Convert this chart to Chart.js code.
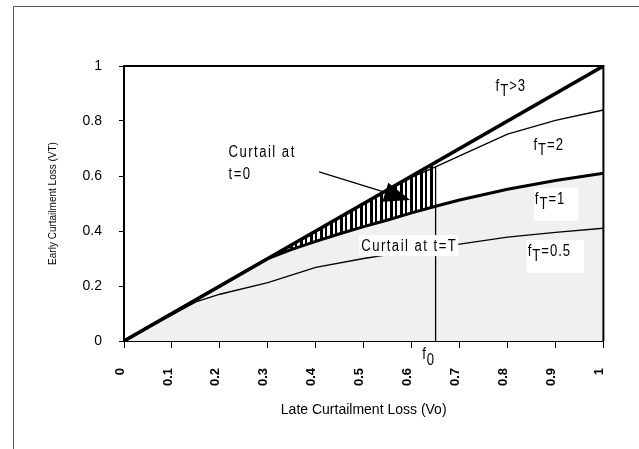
<!DOCTYPE html>
<html><head><meta charset="utf-8">
<script src="https://cdn.jsdelivr.net/npm/chart.js@4"></script>
<style>html,body{margin:0;padding:0;background:#fff;overflow:hidden}canvas{display:block}</style>
</head><body>
<canvas id="c" width="639" height="449"></canvas>
<script>
// ---- data ----
const xTickLabels = ['0','0.1','0.2','0.3','0.4','0.5','0.6','0.7','0.8','0.9','1'];
const yTickLabels = ['0','0.2','0.4','0.6','0.8','1'];
const xTitle = 'Late Curtailment Loss (Vo)';
const yTitle = 'Early Curtailment Loss (VT)';

const fT3X = [0, 1];
const fT3Y = [0, 1];
const fT2X = [0, 0.4, 0.5, 0.6, 0.65, 0.7, 0.8, 0.9, 1];
const fT2Y = [0, 0.4, 0.5, 0.595, 0.633, 0.673, 0.752, 0.802, 0.84];
const fT1X = [0, 0.3, 0.35, 0.4, 0.45, 0.5, 0.55, 0.6, 0.65, 0.7, 0.8, 0.9, 1];
const fT1Y = [0, 0.3, 0.333, 0.362, 0.39, 0.416, 0.44, 0.466, 0.49, 0.513, 0.552, 0.584, 0.61];
const fT05X = [0, 0.15, 0.2, 0.3, 0.4, 0.5, 0.6, 0.7, 0.8, 0.9, 1];
const fT05Y = [0, 0.142, 0.17, 0.212, 0.268, 0.3, 0.328, 0.352, 0.378, 0.395, 0.41];
const hatchX = [0.3, 0.35, 0.4, 0.45, 0.5, 0.55, 0.6, 0.645];
const hatchTopY = [0.3, 0.35, 0.4, 0.45, 0.5, 0.55, 0.6, 0.645];
const hatchBottomY = [0.3, 0.333, 0.362, 0.39, 0.416, 0.44, 0.466, 0.488];
const f0X = [0.65, 0.65];
const f0Y = [0, 0.633];

const pts = (xs, ys) => xs.map((x, i) => ({x, y: ys[i]}));

const SANS = '"Liberation Sans", Arial, sans-serif';
const SQ = 0.82; // horizontal squeeze for annotation text (narrow face look)

// hatch pattern (vertical black stripes)
const pc = document.createElement('canvas');
pc.width = 10; pc.height = 4;
const pctx = pc.getContext('2d');
pctx.fillStyle = '#000';
pctx.fillRect(0, 0, 3, 4);
pctx.fillRect(5, 0, 2, 4);
const hatch = document.getElementById('c').getContext('2d').createPattern(pc, 'repeat');

// annotation definitions (data coordinates)
const curtail0 = {lines: ['Curtail at', 't=0'], x: 0.218, y: [0.684, 0.604]};
const curtailT = {text: 'Curtail at t=T', x: 0.595, y: 0.345};
const arrow = {from: [0.407, 0.615], to: [0.597, 0.513]};
const fLabels = [
  {parts: [['f',0],['T',5],['>3',0]], x: 0.775, y: 0.925, box: false},
  {parts: [['f',0],['T',5],['=2',0]], x: 0.854, y: 0.709, box: false},
  {parts: [['f',0],['T',5],['=1',0]], x: 0.857, y: 0.513, box: true},
  {parts: [['f',0],['T',5],['=0.5',0]], x: 0.842, y: 0.324, box: true}
];
const f0Label = {parts: [['f',0],['0',6]], x: 0.622, y: -0.051};

// draws squeezed text; returns its drawn width
function sqText(ctx, t, x, y, align) {
  const w = ctx.measureText(t).width * SQ;
  const left = align === 'center' ? x - w / 2 : x;
  ctx.save();
  ctx.translate(left, y); ctx.scale(SQ, 1);
  ctx.textAlign = 'left'; ctx.textBaseline = 'middle';
  ctx.fillText(t, 0, 0);
  ctx.restore();
  return w;
}
function drawParts(ctx, x, y, parts) {
  let cx = x;
  for (const [t, dy] of parts) cx += sqText(ctx, t, cx, y + dy, 'left');
  return cx - x;
}
function partsWidth(ctx, parts) {
  let w = 0; for (const [t] of parts) w += ctx.measureText(t).width * SQ; return w;
}

const annot = {
  id: 'annot',
  afterDatasetsDraw(chart) {
    const ctx = chart.ctx, sx = chart.scales.x, sy = chart.scales.y;
    const X = v => sx.getPixelForValue(v), Y = v => sy.getPixelForValue(v);
    ctx.save();
    ctx.font = '16px ' + SANS;
    ctx.letterSpacing = '1.8px';
    ctx.fillStyle = '#000';
    // Curtail at t=0
    curtail0.lines.forEach((t, i) => sqText(ctx, t, X(curtail0.x), Y(curtail0.y[i]), 'left'));
    // arrow
    const x1 = X(arrow.from[0]), y1 = Y(arrow.from[1]), x2 = X(arrow.to[0]), y2 = Y(arrow.to[1]);
    const ang = Math.atan2(y2 - y1, x2 - x1), L = 26, W = 10;
    const bx = x2 - L * Math.cos(ang), by = y2 - L * Math.sin(ang);
    ctx.strokeStyle = '#000'; ctx.lineWidth = 1.3;
    ctx.beginPath(); ctx.moveTo(x1, y1); ctx.lineTo(bx, by); ctx.stroke();
    ctx.beginPath();
    ctx.moveTo(x2, y2);
    ctx.lineTo(bx + W * Math.sin(ang), by - W * Math.cos(ang));
    ctx.lineTo(bx - W * Math.sin(ang), by + W * Math.cos(ang));
    ctx.closePath(); ctx.fill();
    // Curtail at t=T with white box
    const w = ctx.measureText(curtailT.text).width * SQ;
    const cx = X(curtailT.x), cy = Y(curtailT.y);
    ctx.fillStyle = '#fff';
    ctx.fillRect(cx - w / 2 - 2, cy - 11, w + 3, 21);
    ctx.fillStyle = '#000';
    sqText(ctx, curtailT.text, cx, cy, 'center');
    // f_T labels
    ctx.letterSpacing = '1.2px';
    for (const lb of fLabels) {
      const lx = X(lb.x), ly = Y(lb.y);
      if (lb.box) {
        ctx.fillStyle = '#fff';
        ctx.fillRect(lx - 1, ly - 12, partsWidth(ctx, lb.parts) + 14, 33);
        ctx.fillStyle = '#000';
      }
      drawParts(ctx, lx, ly, lb.parts);
    }
    ctx.restore();
  },
  afterDraw(chart) {
    const ctx = chart.ctx, a = chart.chartArea, sx = chart.scales.x, sy = chart.scales.y;
    ctx.save();
    // plot frame top & right
    ctx.strokeStyle = '#000'; ctx.lineWidth = 2;
    ctx.beginPath(); ctx.moveTo(a.left, a.top); ctx.lineTo(a.right, a.top); ctx.lineTo(a.right, a.bottom); ctx.stroke();
    // outer frame
    ctx.strokeStyle = '#555'; ctx.lineWidth = 1;
    ctx.beginPath(); ctx.moveTo(13.5, chart.height); ctx.lineTo(13.5, 6.5); ctx.lineTo(chart.width, 6.5); ctx.stroke();
    // f0 label
    ctx.font = '16px ' + SANS; ctx.fillStyle = '#000'; ctx.letterSpacing = '1px';
    drawParts(ctx, sx.getPixelForValue(f0Label.x), sy.getPixelForValue(f0Label.y), f0Label.parts);
    ctx.restore();
  }
};

const thin = {borderColor: '#000', borderWidth: 1.3, pointRadius: 0, fill: false};
new Chart(document.getElementById('c'), {
  type: 'line',
  data: {
    datasets: [
      {label: 'hatch', data: pts(hatchX, hatchTopY), borderColor: 'rgba(0,0,0,0)', borderWidth: 1, pointRadius: 0, fill: '+1', backgroundColor: hatch},
      {label: 'hatchBase', data: pts(hatchX, hatchBottomY), borderColor: 'rgba(0,0,0,0)', borderWidth: 1, pointRadius: 0, fill: false},
      {label: 'fT>3', data: pts(fT3X, fT3Y), borderColor: '#000', borderWidth: 3.5, pointRadius: 0, fill: false},
      {label: 'fT=2', data: pts(fT2X, fT2Y), ...thin},
      {label: 'fT=1', data: pts(fT1X, fT1Y), borderColor: '#000', borderWidth: 3, pointRadius: 0, fill: 'origin', backgroundColor: '#f0f0f0'},
      {label: 'fT=0.5', data: pts(fT05X, fT05Y), ...thin},
      {label: 'f0', data: pts(f0X, f0Y), ...thin}
    ]
  },
  options: {
    responsive: false,
    animation: false,
    layout: {padding: {top: 66, right: 34, left: 0, bottom: 0}},
    plugins: {legend: {display: false}, tooltip: {enabled: false}, filler: {drawTime: 'beforeDatasetsDraw'}},
    scales: {
      x: {
        type: 'linear', min: 0, max: 1,
        afterBuildTicks: s => { s.ticks = xTickLabels.map(v => ({value: parseFloat(v)})); },
        ticks: {autoSkip: false, minRotation: 90, maxRotation: 90, padding: 20, labelOffset: -4, color: '#000',
          font: {family: SANS, size: 13, weight: 'bold'}, callback: (v, i) => xTickLabels[i]},
        grid: {drawOnChartArea: false, drawTicks: true, tickLength: 7, color: '#000', tickWidth: 1},
        border: {display: true, color: '#000', width: 2},
        title: {display: true, text: xTitle, color: '#000', font: {family: SANS, size: 14}, padding: {top: 0, bottom: 30}},
        afterFit: s => { s.height = 108; }
      },
      y: {
        type: 'linear', min: 0, max: 1,
        afterBuildTicks: s => { s.ticks = yTickLabels.map(v => ({value: parseFloat(v)})); },
        ticks: {padding: 17, color: '#000', font: {family: SANS, size: 14}, callback: (v, i) => yTickLabels[i]},
        grid: {drawOnChartArea: false, drawTicks: true, tickLength: 5, color: '#000', tickWidth: 1},
        border: {display: true, color: '#000', width: 2},
        title: {display: true, text: yTitle, color: '#000', font: {family: SANS, size: 10}, padding: {top: 47, bottom: 0}},
        afterFit: s => { s.width = 124; }
      }
    }
  },
  plugins: [annot]
});
</script>
</body></html>
